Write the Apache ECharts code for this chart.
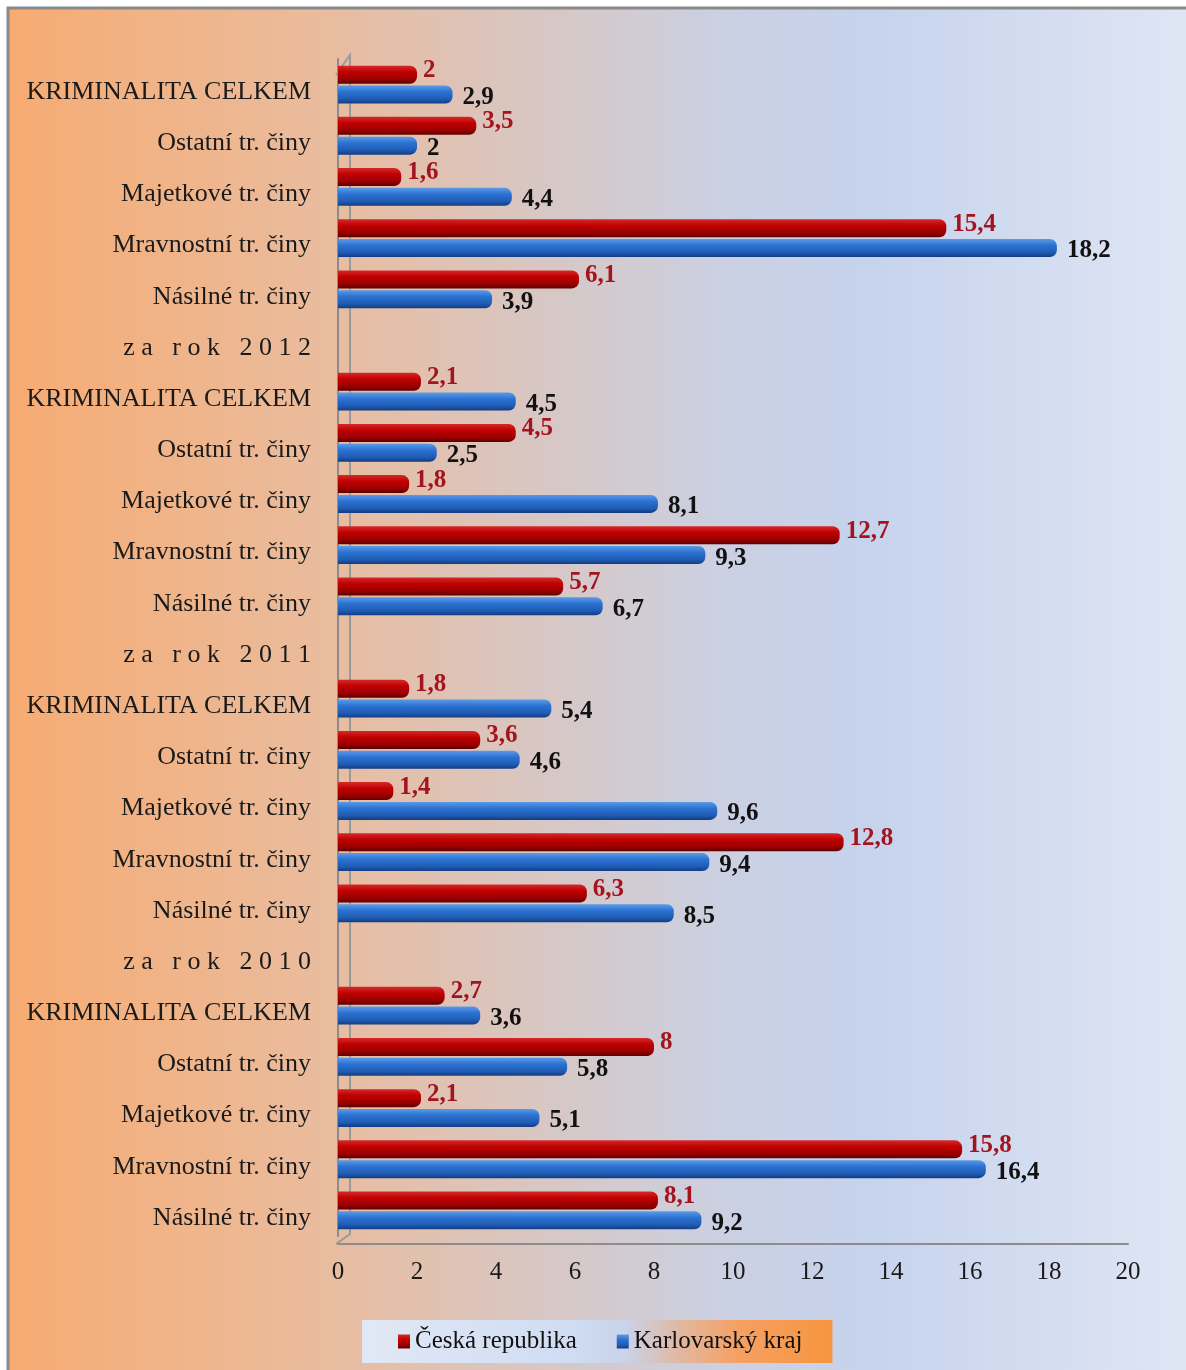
<!DOCTYPE html>
<html>
<head>
<meta charset="utf-8">
<script src="https://cdn.jsdelivr.net/npm/echarts@6/dist/echarts.min.js"></script>
<style>
html,body{margin:0;padding:0;background:#fff;}
#chart{width:1186px;height:1370px;}
</style>
</head>
<body>
<div id="chart"></div>
<script>
// Categories listed top to bottom
var categories = [
  'KRIMINALITA CELKEM','Ostatní tr. činy','Majetkové tr. činy','Mravnostní tr. činy','Násilné tr. činy',
  'za rok 2012',
  'KRIMINALITA CELKEM','Ostatní tr. činy','Majetkové tr. činy','Mravnostní tr. činy','Násilné tr. činy',
  'za rok 2011',
  'KRIMINALITA CELKEM','Ostatní tr. činy','Majetkové tr. činy','Mravnostní tr. činy','Násilné tr. činy',
  'za rok 2010',
  'KRIMINALITA CELKEM','Ostatní tr. činy','Majetkové tr. činy','Mravnostní tr. činy','Násilné tr. činy'
];
var ceskaRepublika = [2, 3.5, 1.6, 15.4, 6.1, '-', 2.1, 4.5, 1.8, 12.7, 5.7, '-', 1.8, 3.6, 1.4, 12.8, 6.3, '-', 2.7, 8, 2.1, 15.8, 8.1];
var karlovarskyKraj = [2.9, 2, 4.4, 18.2, 3.9, '-', 4.5, 2.5, 8.1, 9.3, 6.7, '-', 5.4, 4.6, 9.6, 9.4, 8.5, '-', 3.6, 5.8, 5.1, 16.4, 9.2];
var seriesNames = ['Česká republika', 'Karlovarský kraj'];
var xTicks = {min: 0, max: 20, interval: 2};

var serif = '"Liberation Serif","DejaVu Serif",serif';
function fmt(p){ return String(p.value).replace('.', ','); }

var chart = echarts.init(document.getElementById('chart'));
chart.setOption({
  backgroundColor: '#ffffff',
  animation: false,
  graphic: [
    {
      type: 'rect', z: -10, silent: true,
      shape: {x: 8, y: 8, width: 1190, height: 1375},
      style: {
        fill: {type: 'linear', x: 0, y: 0, x2: 1, y2: 0, colorStops: [
          {offset: 0, color: '#f7ab72'},
          {offset: 0.25, color: '#eabb9b'},
          {offset: 0.47, color: '#d6c8c8'},
          {offset: 0.6, color: '#cbd0e2'},
          {offset: 0.72, color: '#c6d3ed'},
          {offset: 1, color: '#e0e6f4'}
        ]},
        stroke: '#8a8a8a', lineWidth: 3
      }
    },
    {
      type: 'polyline', z: 1, silent: true,
      shape: {points: [[336, 75], [350, 55], [350, 1234], [336, 1244]]},
      style: {stroke: '#9a9a9a', lineWidth: 2, fill: null}
    }
  ],
  grid: {left: 338, right: 58, top: 59, bottom: 134, containLabel: false},
  legend: {
    data: seriesNames,
    left: 362, top: 1320,
    orient: 'horizontal',
    icon: 'rect',
    itemWidth: 12, itemHeight: 14,
    itemGap: 40,
    padding: [9, 30, 9, 36],
    backgroundColor: {type: 'linear', x: 0, y: 0, x2: 1, y2: 0, colorStops: [
      {offset: 0, color: '#e1e8f5'},
      {offset: 0.45, color: '#cfdcf2'},
      {offset: 0.56, color: '#c9d3ea'},
      {offset: 0.68, color: '#e2b79e'},
      {offset: 0.8, color: '#f5a062'},
      {offset: 1, color: '#f79540'}
    ]},
    textStyle: {fontFamily: serif, fontSize: 25, color: '#111', lineHeight: 25}
  },
  xAxis: {
    type: 'value',
    min: xTicks.min, max: xTicks.max, interval: xTicks.interval,
    offset: 8,
    splitLine: {show: false},
    axisTick: {show: false},
    axisLine: {show: true, lineStyle: {color: '#8c8c8c', width: 2}},
    axisLabel: {margin: 16, fontFamily: serif, fontSize: 25, color: '#1a1a1a'}
  },
  yAxis: {
    type: 'category',
    inverse: true,
    data: categories,
    axisTick: {show: false},
    axisLine: {show: true, lineStyle: {color: '#8c8c8c', width: 2}},
    axisLabel: {
      margin: 27, fontFamily: serif, fontSize: 26, color: '#1a1a1a',
      formatter: function (v) {
        if (v.indexOf('za rok') === 0) { v = v.split('').join(' '); }
        return '{a|' + v + '}';
      },
      rich: {
        a: {fontFamily: serif, fontSize: 26, color: '#1a1a1a', padding: [15, 0, 0, 0]}
      }
    }
  },
  series: [
    {
      name: seriesNames[0], type: 'bar', data: ceskaRepublika,
      barWidth: 18, barGap: '10%',
      itemStyle: {
        borderRadius: [0, 7, 7, 0],
        color: {type: 'linear', x: 0, y: 0, x2: 0, y2: 1, colorStops: [
          {offset: 0, color: '#d42a2a'},
          {offset: 0.35, color: '#c00000'},
          {offset: 0.75, color: '#9a0000'},
          {offset: 1, color: '#5e0000'}
        ]}
      },
      label: {
        show: true, position: 'right', distance: 6, offset: [0, -4],
        formatter: fmt, fontFamily: serif, fontSize: 25, fontWeight: 'bold', color: '#a3141e'
      }
    },
    {
      name: seriesNames[1], type: 'bar', data: karlovarskyKraj,
      barWidth: 18,
      itemStyle: {
        borderRadius: [0, 7, 7, 0],
        color: {type: 'linear', x: 0, y: 0, x2: 0, y2: 1, colorStops: [
          {offset: 0, color: '#5b9be6'},
          {offset: 0.35, color: '#2c72d2'},
          {offset: 0.75, color: '#1f5cb4'},
          {offset: 1, color: '#123c80'}
        ]}
      },
      label: {
        show: true, position: 'right', distance: 10, offset: [0, 3],
        formatter: fmt, fontFamily: serif, fontSize: 25, fontWeight: 'bold', color: '#111'
      }
    }
  ]
});
</script>
</body>
</html>
